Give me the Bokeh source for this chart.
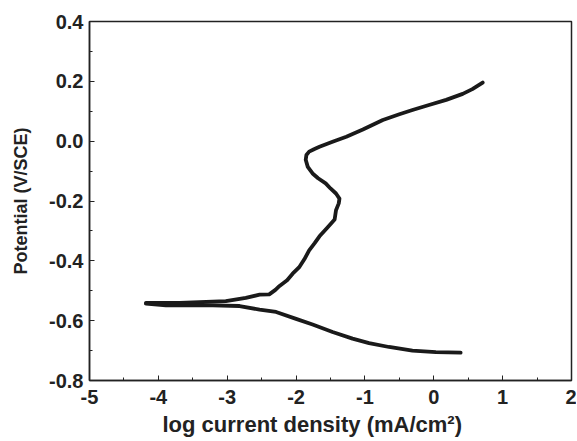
from bokeh.plotting import figure
from bokeh.embed import file_html
from bokeh.resources import INLINE
from bokeh.models import Range1d, FixedTicker, CustomJSTickFormatter, Title

anodic_x = [-4.18, -3.69, -3.02, -2.73, -2.53, -2.39, -2.30, -2.24, -2.13, -2.05, -1.95, -1.88, -1.81, -1.73,
            -1.66, -1.55, -1.44, -1.42, -1.38, -1.37, -1.42, -1.50, -1.57, -1.68, -1.76, -1.83, -1.86, -1.85,
            -1.81, -1.74, -1.66, -1.47, -1.27, -1.03, -0.74, -0.50, -0.31, -0.07, 0.18, 0.42, 0.56, 0.71]
anodic_y = [-0.541, -0.541, -0.535, -0.524, -0.513, -0.512, -0.497, -0.484, -0.465, -0.443, -0.420, -0.395,
            -0.365, -0.341, -0.318, -0.290, -0.262, -0.231, -0.208, -0.192, -0.175, -0.158, -0.141, -0.124,
            -0.108, -0.086, -0.062, -0.046, -0.035, -0.027, -0.019, -0.002, 0.015, 0.039, 0.071, 0.090, 0.104,
            0.121, 0.138, 0.158, 0.174, 0.196]
cathodic_x = [-4.18, -3.89, -3.21, -2.82, -2.53, -2.29, -2.0, -1.76, -1.47, -1.18, -0.94, -0.65, -0.31, 0.03, 0.39]
cathodic_y = [-0.543, -0.549, -0.549, -0.551, -0.563, -0.571, -0.594, -0.613, -0.638, -0.660, -0.675, -0.688,
              -0.700, -0.705, -0.707]

x_ticks = [-5, -4, -3, -2, -1, 0, 1, 2]
y_ticks = [-0.8, -0.6, -0.4, -0.2, 0.0, 0.2, 0.4]
x_label = "log current density (mA/cm²)"
y_label = "Potential (V/SCE)"

p = figure(width=576, height=439, output_backend="svg", toolbar_location=None,
           x_range=Range1d(-5, 2), y_range=Range1d(-0.8, 0.4),
           min_border_left=89, min_border_right=5, min_border_top=21, min_border_bottom=58)

p.line(anodic_x, anodic_y, line_color="#1a1a1a", line_width=3.8, line_join="round", line_cap="round")
p.line(cathodic_x, cathodic_y, line_color="#1a1a1a", line_width=3.8, line_join="round", line_cap="round")

p.grid.visible = False
p.outline_line_color = "#222222"
p.outline_line_width = 1.5

p.xaxis.ticker = FixedTicker(ticks=x_ticks, minor_ticks=[x + 0.5 for x in x_ticks[:-1]])
p.yaxis.ticker = FixedTicker(ticks=y_ticks, minor_ticks=[round(y + 0.1, 1) for y in y_ticks[:-1]])
p.xaxis.formatter = CustomJSTickFormatter(code="return tick.toFixed(0).replace('\u2212', '-');")
p.yaxis.formatter = CustomJSTickFormatter(code="return tick.toFixed(1).replace('\u2212', '-');")

for ax in (p.xaxis[0], p.yaxis[0]):
    ax.axis_line_color = "#222222"
    ax.axis_line_width = 1.5
    ax.major_tick_in = 5
    ax.major_tick_out = 0
    ax.minor_tick_in = 3
    ax.minor_tick_out = 0
    ax.major_tick_line_color = "#222222"
    ax.minor_tick_line_color = "#222222"
    ax.major_label_text_font = "Liberation Sans"
    ax.major_label_text_font_style = "bold"
    ax.major_label_text_font_size = "20px"
    ax.major_label_text_color = "#222222"
    ax.axis_label_text_font = "Liberation Sans"
    ax.axis_label_text_font_style = "bold"
    ax.axis_label_text_color = "#222222"

p.yaxis.axis_label_text_font_size = "18px"
p.yaxis.axis_label = y_label
p.xaxis.major_label_standoff = 9
p.yaxis.major_label_standoff = 6
p.yaxis.axis_label_standoff = 15

xt = Title(text=x_label, align="left", offset=73, standoff=6,
           text_font="Liberation Sans", text_font_style="bold", text_font_size="22px",
           text_color="#222222")
p.add_layout(xt, "below")

open("out.html", "w").write(file_html(p, INLINE))
